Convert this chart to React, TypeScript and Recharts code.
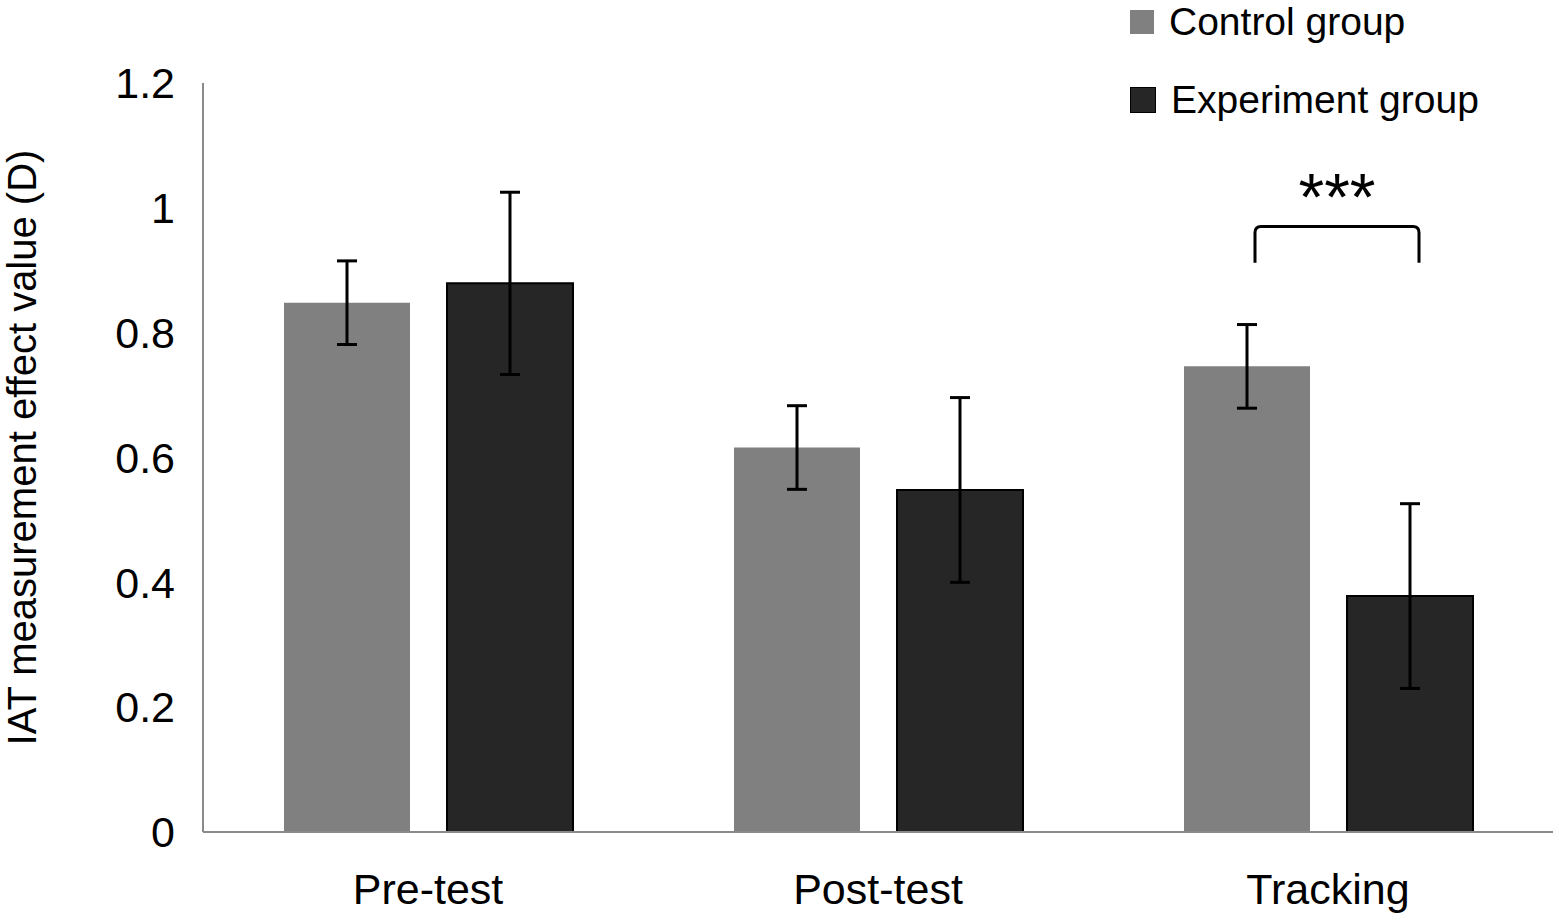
import React from 'react';
import { BarChart, Bar, XAxis, YAxis, ErrorBar, LabelList, Legend } from 'recharts';

const categories = ['Pre-test', 'Post-test', 'Tracking'];
const controlMeans = [0.848, 0.616, 0.746];
const controlErrors = [0.067, 0.067, 0.067];
const experimentMeans = [0.879, 0.548, 0.378];
const experimentErrors = [0.146, 0.148, 0.148];
const significance = ['', '', '***'];
const bracketTops = [null, null, 0.97];
const bracketLegs = [null, null, 0.058];
const yTicks = [0, 0.2, 0.4, 0.6, 0.8, 1, 1.2];

const seriesNames = ['Control group', 'Experiment group'];
const seriesColors = ['#808080', '#262626'];

const FONT = '"Liberation Sans", Arial, sans-serif';
const BAR_SIZE = 126;
const BAR_GAP = 37;

const chartData = categories.map((name, i) => ({
  name,
  control: controlMeans[i],
  controlErr: controlErrors[i],
  experiment: experimentMeans[i],
  experimentErr: experimentErrors[i],
  sig: significance[i],
}));

// bracket over the pair, drawn from the experiment bar's geometry
const SigBracket = (props: any) => {
  const { x, y, width, height, value, index } = props;
  if (!value) return null;
  const perUnit = height / experimentMeans[index];
  const base = y + height;
  const top = base - (bracketTops[index] as number) * perUnit;
  const leg = top + (bracketLegs[index] as number) * perUnit;
  const right = x + width / 2 + 9;
  const left = x - BAR_GAP - width / 2 + 8;
  const r = 6;
  const d = `M${left},${leg} L${left},${top + r} Q${left},${top} ${left + r},${top} L${right - r},${top} Q${right},${top} ${right},${top + r} L${right},${leg}`;
  return (
    <g>
      <path d={d} fill="none" stroke="#000" strokeWidth={3} />
      <text x={(left + right) / 2} y={top - 7} textAnchor="middle" fontSize={66} fontFamily={FONT} fill="#000">
        {value}
      </text>
    </g>
  );
};

const LegendBox = () => (
  <div style={{ fontFamily: FONT, fontSize: 39, color: '#000' }}>
    {seriesNames.map((n, i) => (
      <div key={n} style={{ display: 'flex', alignItems: 'center', height: 44, marginBottom: i === 0 ? 34 : 0 }}>
        <span style={{ display: 'inline-block', width: 24, height: 24, background: seriesColors[i], border: i === 1 ? '1px solid #000' : 'none', marginRight: 15 }} />
        <span>{n}</span>
      </div>
    ))}
  </div>
);

const YLabel = (props: any) => {
  const { viewBox } = props;
  const cx = viewBox.x + 36;
  const cy = viewBox.y + viewBox.height / 2 - 10;
  return (
    <text x={cx} y={cy} transform={`rotate(-90 ${cx} ${cy})`} textAnchor="middle" fontSize={40} fontFamily={FONT} fill="#000">
      IAT measurement effect value (D)
    </text>
  );
};

export default function App() {
  return (
    <div style={{ position: 'absolute', left: 0, top: 0, background: '#fff' }}>
      <BarChart
        width={1559}
        height={921}
        data={chartData}
        margin={{ top: 83, right: 6, left: 0, bottom: 0 }}
        barSize={BAR_SIZE}
        barGap={BAR_GAP}
      >
        <XAxis
          dataKey="name"
          height={89}
          tickLine={false}
          tickSize={0}
          tickMargin={41}
          axisLine={{ stroke: '#8a8a8a', strokeWidth: 2 }}
          tick={{ fontSize: 43, fontFamily: FONT, fill: '#000' }}
        />
        <YAxis
          width={203}
          domain={[0, 1.2]}
          ticks={yTicks}
          tickLine={false}
          tickSize={0}
          tickMargin={28}
          axisLine={{ stroke: '#8a8a8a', strokeWidth: 2 }}
          tick={{ fontSize: 43, fontFamily: FONT, fill: '#000' }}
          label={<YLabel />}
        />
        <Legend
          layout="vertical"
          align="center"
          verticalAlign="middle"
          wrapperStyle={{ left: 1130, top: 0, width: 420 }}
          content={<LegendBox />}
        />
        <Bar dataKey="control" name={seriesNames[0]} fill={seriesColors[0]} isAnimationActive={false}>
          <ErrorBar dataKey="controlErr" width={10} strokeWidth={3} stroke="#000" />
        </Bar>
        <Bar dataKey="experiment" name={seriesNames[1]} fill={seriesColors[1]} stroke="#000" strokeWidth={2} isAnimationActive={false}>
          <ErrorBar dataKey="experimentErr" width={10} strokeWidth={3} stroke="#000" />
          <LabelList dataKey="sig" content={<SigBracket />} />
        </Bar>
      </BarChart>
    </div>
  );
}
